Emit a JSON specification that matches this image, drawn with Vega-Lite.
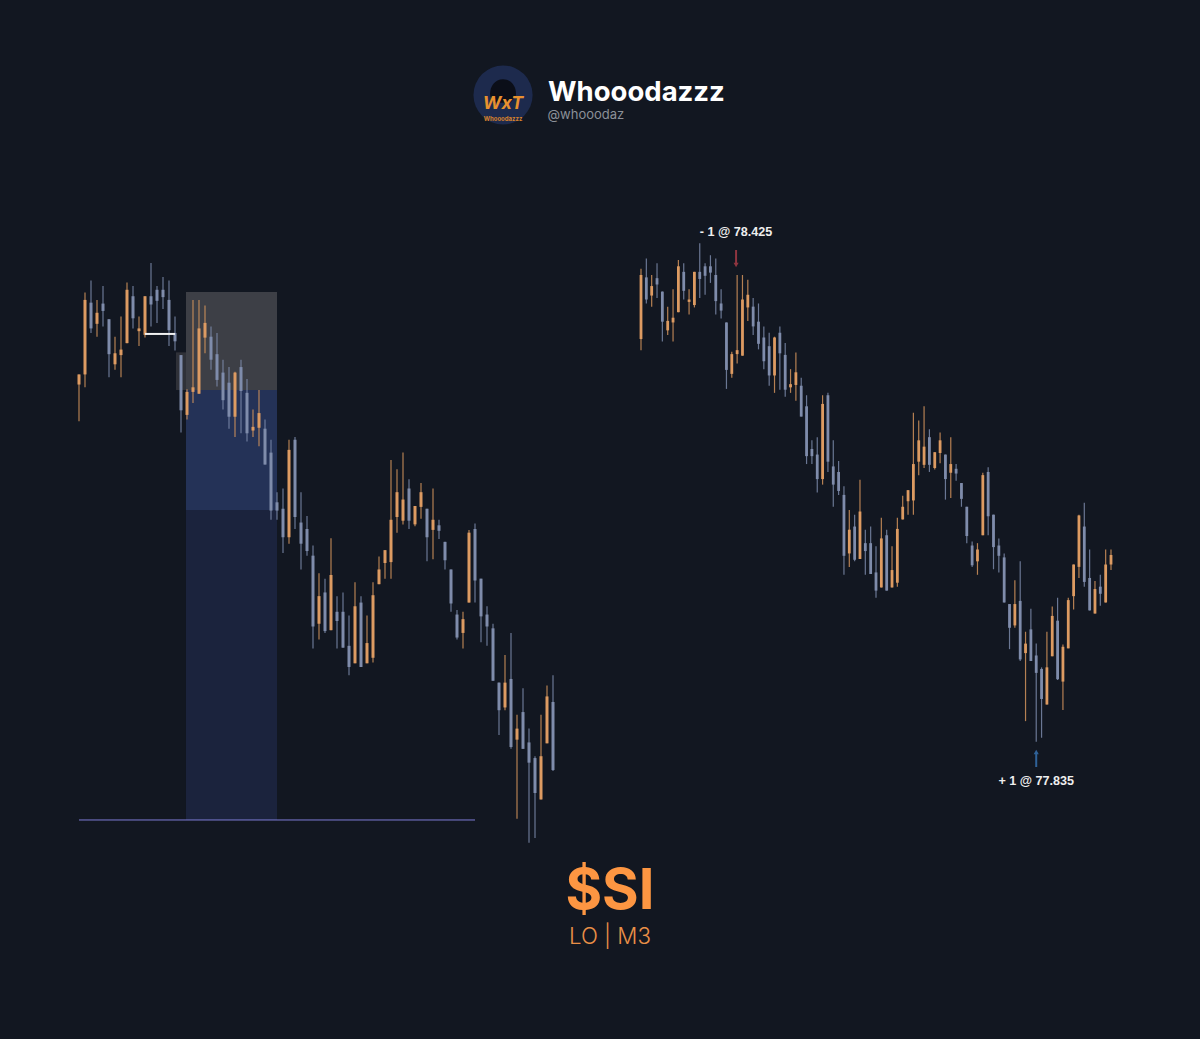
{"$schema":"https://vega.github.io/schema/vega-lite/v6.json","width":1200,"height":1039,"padding":0,"autosize":"none","background":"#121721","config":{"view":{"stroke":null}},
"datasets":{
"candles":[
{"bar":-1,"o":78.333,"h":78.344,"l":78.293,"c":78.344},
{"bar":0,"o":78.344,"h":78.433,"l":78.330,"c":78.425},
{"bar":1,"o":78.422,"h":78.446,"l":78.389,"c":78.394},
{"bar":2,"o":78.399,"h":78.425,"l":78.385,"c":78.411},
{"bar":3,"o":78.421,"h":78.440,"l":78.396,"c":78.413},
{"bar":4,"o":78.404,"h":78.404,"l":78.341,"c":78.366},
{"bar":5,"o":78.355,"h":78.385,"l":78.349,"c":78.367},
{"bar":6,"o":78.365,"h":78.407,"l":78.341,"c":78.371},
{"bar":7,"o":78.378,"h":78.444,"l":78.378,"c":78.436},
{"bar":8,"o":78.429,"h":78.440,"l":78.394,"c":78.405},
{"bar":9,"o":78.391,"h":78.407,"l":78.375,"c":78.394},
{"bar":10,"o":78.387,"h":78.429,"l":78.384,"c":78.429},
{"bar":11,"o":78.429,"h":78.465,"l":78.396,"c":78.420},
{"bar":12,"o":78.436,"h":78.440,"l":78.400,"c":78.424},
{"bar":13,"o":78.436,"h":78.450,"l":78.415,"c":78.428},
{"bar":14,"o":78.425,"h":78.446,"l":78.375,"c":78.392},
{"bar":15,"o":78.389,"h":78.407,"l":78.370,"c":78.380},
{"bar":16,"o":78.365,"h":78.365,"l":78.281,"c":78.305},
{"bar":17,"o":78.300,"h":78.328,"l":78.295,"c":78.325},
{"bar":18,"o":78.325,"h":78.425,"l":78.313,"c":78.330},
{"bar":19,"o":78.323,"h":78.425,"l":78.323,"c":78.394},
{"bar":20,"o":78.384,"h":78.419,"l":78.367,"c":78.400},
{"bar":21,"o":78.385,"h":78.396,"l":78.349,"c":78.360},
{"bar":22,"o":78.366,"h":78.389,"l":78.331,"c":78.338},
{"bar":23,"o":78.346,"h":78.360,"l":78.306,"c":78.316},
{"bar":24,"o":78.335,"h":78.352,"l":78.285,"c":78.298},
{"bar":25,"o":78.298,"h":78.347,"l":78.276,"c":78.346},
{"bar":26,"o":78.352,"h":78.360,"l":78.280,"c":78.326},
{"bar":27,"o":78.324,"h":78.339,"l":78.271,"c":78.280},
{"bar":28,"o":78.283,"h":78.306,"l":78.276,"c":78.287},
{"bar":29,"o":78.286,"h":78.327,"l":78.266,"c":78.302},
{"bar":30,"o":78.285,"h":78.295,"l":78.246,"c":78.246},
{"bar":31,"o":78.259,"h":78.273,"l":78.186,"c":78.196},
{"bar":32,"o":78.205,"h":78.216,"l":78.186,"c":78.196},
{"bar":33,"o":78.198,"h":78.220,"l":78.150,"c":78.167},
{"bar":34,"o":78.167,"h":78.273,"l":78.160,"c":78.262},
{"bar":35,"o":78.273,"h":78.276,"l":78.176,"c":78.189},
{"bar":36,"o":78.183,"h":78.216,"l":78.132,"c":78.160},
{"bar":37,"o":78.176,"h":78.190,"l":78.147,"c":78.152},
{"bar":38,"o":78.147,"h":78.158,"l":78.046,"c":78.070},
{"bar":39,"o":78.073,"h":78.128,"l":78.056,"c":78.103},
{"bar":40,"o":78.107,"h":78.122,"l":78.063,"c":78.065},
{"bar":41,"o":78.066,"h":78.166,"l":78.066,"c":78.126},
{"bar":42,"o":78.086,"h":78.103,"l":78.046,"c":78.076},
{"bar":43,"o":78.086,"h":78.107,"l":78.047,"c":78.047},
{"bar":44,"o":78.049,"h":78.082,"l":78.017,"c":78.026},
{"bar":45,"o":78.030,"h":78.118,"l":78.030,"c":78.092},
{"bar":46,"o":78.096,"h":78.103,"l":78.026,"c":78.026},
{"bar":47,"o":78.030,"h":78.082,"l":78.030,"c":78.052},
{"bar":48,"o":78.036,"h":78.118,"l":78.031,"c":78.104},
{"bar":49,"o":78.116,"h":78.146,"l":78.116,"c":78.132},
{"bar":50,"o":78.139,"h":78.153,"l":78.122,"c":78.153},
{"bar":51,"o":78.140,"h":78.251,"l":78.122,"c":78.186},
{"bar":52,"o":78.189,"h":78.241,"l":78.172,"c":78.216},
{"bar":53,"o":78.185,"h":78.259,"l":78.181,"c":78.208},
{"bar":54,"o":78.220,"h":78.230,"l":78.176,"c":78.185},
{"bar":55,"o":78.181,"h":78.201,"l":78.179,"c":78.201},
{"bar":56,"o":78.200,"h":78.226,"l":78.187,"c":78.216},
{"bar":57,"o":78.198,"h":78.198,"l":78.141,"c":78.167},
{"bar":58,"o":78.175,"h":78.220,"l":78.143,"c":78.186},
{"bar":59,"o":78.180,"h":78.186,"l":78.165,"c":78.174},
{"bar":60,"o":78.162,"h":78.162,"l":78.132,"c":78.142},
{"bar":61,"o":78.132,"h":78.132,"l":78.086,"c":78.095},
{"bar":62,"o":78.083,"h":78.088,"l":78.056,"c":78.058},
{"bar":63,"o":78.063,"h":78.086,"l":78.046,"c":78.078},
{"bar":64,"o":78.096,"h":78.175,"l":78.096,"c":78.172},
{"bar":65,"o":78.176,"h":78.182,"l":78.096,"c":78.120},
{"bar":66,"o":78.122,"h":78.122,"l":78.053,"c":78.081},
{"bar":67,"o":78.083,"h":78.092,"l":78.049,"c":78.070},
{"bar":68,"o":78.068,"h":78.073,"l":78.011,"c":78.011},
{"bar":69,"o":78.009,"h":78.009,"l":77.952,"c":77.979},
{"bar":70,"o":77.982,"h":78.039,"l":77.979,"c":78.009},
{"bar":71,"o":78.013,"h":78.063,"l":77.937,"c":77.939},
{"bar":72,"o":77.947,"h":77.974,"l":77.861,"c":77.959},
{"bar":73,"o":77.977,"h":78.003,"l":77.937,"c":77.937},
{"bar":74,"o":77.944,"h":77.959,"l":77.835,"c":77.922},
{"bar":75,"o":77.927,"h":77.929,"l":77.840,"c":77.889},
{"bar":76,"o":77.882,"h":77.974,"l":77.882,"c":77.929},
{"bar":77,"o":77.943,"h":78.006,"l":77.943,"c":77.994},
{"bar":78,"o":77.988,"h":78.017,"l":77.913,"c":77.914},
{"bar":79,"o":77.911,"h":77.958,"l":77.875,"c":77.955},
{"bar":80,"o":77.953,"h":78.017,"l":77.953,"c":78.014},
{"bar":81,"o":78.019,"h":78.059,"l":78.002,"c":78.059},
{"bar":82,"o":78.056,"h":78.122,"l":78.042,"c":78.121},
{"bar":83,"o":78.107,"h":78.137,"l":78.031,"c":78.037},
{"bar":84,"o":78.042,"h":78.078,"l":78.001,"c":78.001},
{"bar":85,"o":77.997,"h":78.038,"l":77.997,"c":78.028},
{"bar":86,"o":78.031,"h":78.046,"l":78.007,"c":78.022},
{"bar":87,"o":78.011,"h":78.078,"l":78.011,"c":78.059},
{"bar":88,"o":78.059,"h":78.078,"l":78.052,"c":78.071}
],
"zones":[
{"zone":"reward far","b0":16.83,"b1":32,"p0":78.1966,"p1":77.8597},
{"zone":"reward near","b0":16.83,"b1":32,"p0":78.327,"p1":78.1966},
{"zone":"risk","b0":16.83,"b1":32,"p0":78.4336,"p1":78.327},
{"zone":"entry","b0":15.17,"b1":16.83,"p0":78.368,"p1":78.327}
],
"levels":[
{"level":"target","b0":-1,"b1":65,"p":77.8597},
{"level":"sweep","b0":10,"b1":15,"p":78.388}
],
"trades":[
{"label":"- 1 @ 78.425","kind":"sell","bar":17.8,"tip":78.4376,"tail":78.4566,"lab":78.4794},
{"label":"+ 1 @ 77.835","kind":"buy","bar":74,"tip":77.822,"tail":77.803,"lab":77.7855}
],
"brand":[{"fx":0.4567,"fy":0.0972,"t":"Whooodazzz"}],
"handle":[{"fx":0.4563,"fy":0.1146,"t":"@whooodaz"}],
"ticker":[{"fx":0.5083,"fy":0.8749,"t":"$SI"}],
"session":[{"fx":0.5083,"fy":0.9086,"t":"LO | M3"}],
"logo":[{"fx":0.4192,"fy":0.0914}],
"logoMark":[{"fx":0.4192,"fy":0.1005,"t":"WxT"}],
"logoName":[{"fx":0.4192,"fy":0.1145,"t":"Whooodazzz"}]
},
"resolve":{"scale":{"x":"independent","y":"independent"}},
"layer":[
{"layer":[
{"data":{"name":"zones"},"mark":{"type":"rect"},"encoding":{
"x":{"field":"b0","type":"quantitative","axis":null,"scale":{"domain":[-1,78],"range":[79,553],"nice":false,"zero":false}},
"x2":{"field":"b1"},
"y":{"field":"p0","type":"quantitative","axis":null,"scale":{"domain":[77.835,78.425],"range":[842.7,299.9],"nice":false,"zero":false}},
"y2":{"field":"p1"},
"fill":{"field":"zone","type":"nominal","legend":null,"scale":{"domain":["reward far","reward near","risk","entry"],"range":["#1b233d","#243257","#3d3f46","#2f3138"]}}}},
{"data":{"name":"candles"},"transform":[{"filter":"datum.bar<=78"}],"mark":{"type":"rule","strokeWidth":1.2,"opacity":0.85},"encoding":{
"x":{"field":"bar","type":"quantitative","axis":null,"scale":{"domain":[-1,78],"range":[79,553],"nice":false,"zero":false}},
"y":{"field":"h","type":"quantitative","axis":null,"scale":{"domain":[77.835,78.425],"range":[842.7,299.9],"nice":false,"zero":false}},
"y2":{"field":"l"},
"color":{"condition":{"test":"datum.c>=datum.o","value":"#d2935c"},"value":"#7a88a8"}}},
{"data":{"name":"candles"},"transform":[{"filter":"datum.bar<=78"}],"mark":{"type":"rule","strokeWidth":3},"encoding":{
"x":{"field":"bar","type":"quantitative","axis":null,"scale":{"domain":[-1,78],"range":[79,553],"nice":false,"zero":false}},
"y":{"field":"o","type":"quantitative","axis":null,"scale":{"domain":[77.835,78.425],"range":[842.7,299.9],"nice":false,"zero":false}},
"y2":{"field":"c"},
"color":{"condition":{"test":"datum.c>=datum.o","value":"#dd9b62"},"value":"#7f8cab"}}},
{"data":{"name":"levels"},"transform":[{"filter":"datum.level=='target'"}],"mark":{"type":"rule","strokeWidth":1,"color":"#7d7bd6"},"encoding":{
"x":{"field":"b0","type":"quantitative","axis":null,"scale":{"domain":[-1,78],"range":[79,553],"nice":false,"zero":false}},
"x2":{"field":"b1"},
"y":{"field":"p","type":"quantitative","axis":null,"scale":{"domain":[77.835,78.425],"range":[842.7,299.9],"nice":false,"zero":false}}}},
{"data":{"name":"levels"},"transform":[{"filter":"datum.level=='sweep'"}],"mark":{"type":"rule","strokeWidth":2,"color":"#f2f2f2"},"encoding":{
"x":{"field":"b0","type":"quantitative","axis":null,"scale":{"domain":[-1,78],"range":[79,553],"nice":false,"zero":false}},
"x2":{"field":"b1"},
"y":{"field":"p","type":"quantitative","axis":null,"scale":{"domain":[77.835,78.425],"range":[842.7,299.9],"nice":false,"zero":false}}}}
]},
{"layer":[
{"data":{"name":"candles"},"transform":[{"filter":"datum.bar>=0"}],"mark":{"type":"rule","strokeWidth":1.2,"opacity":0.85},"encoding":{
"x":{"field":"bar","type":"quantitative","axis":null,"scale":{"domain":[0,88],"range":[641,1111],"nice":false,"zero":false}},
"y":{"field":"h","type":"quantitative","axis":null,"scale":{"domain":[77.835,78.425],"range":[741.7,275],"nice":false,"zero":false}},
"y2":{"field":"l"},
"color":{"condition":{"test":"datum.c>=datum.o","value":"#d2935c"},"value":"#7a88a8"}}},
{"data":{"name":"candles"},"transform":[{"filter":"datum.bar>=0"}],"mark":{"type":"rule","strokeWidth":2.8},"encoding":{
"x":{"field":"bar","type":"quantitative","axis":null,"scale":{"domain":[0,88],"range":[641,1111],"nice":false,"zero":false}},
"y":{"field":"o","type":"quantitative","axis":null,"scale":{"domain":[77.835,78.425],"range":[741.7,275],"nice":false,"zero":false}},
"y2":{"field":"c"},
"color":{"condition":{"test":"datum.c>=datum.o","value":"#dd9b62"},"value":"#7f8cab"}}},
{"data":{"name":"trades"},"mark":{"type":"rule","strokeWidth":2},"encoding":{
"x":{"field":"bar","type":"quantitative","axis":null,"scale":{"domain":[0,88],"range":[641,1111],"nice":false,"zero":false}},
"y":{"field":"tip","type":"quantitative","axis":null,"scale":{"domain":[77.835,78.425],"range":[741.7,275],"nice":false,"zero":false}},
"y2":{"field":"tail"},
"color":{"condition":{"test":"datum.kind=='sell'","value":"#8f3540"},"value":"#2f6299"}}},
{"data":{"name":"trades"},"mark":{"type":"point","filled":true,"size":26,"opacity":1},"encoding":{
"x":{"field":"bar","type":"quantitative","axis":null,"scale":{"domain":[0,88],"range":[641,1111],"nice":false,"zero":false}},
"y":{"field":"tip","type":"quantitative","axis":null,"scale":{"domain":[77.835,78.425],"range":[741.7,275],"nice":false,"zero":false}},
"shape":{"field":"kind","type":"nominal","legend":null,"scale":{"domain":["sell","buy"],"range":["triangle-down","triangle-up"]}},
"color":{"condition":{"test":"datum.kind=='sell'","value":"#8f3540"},"value":"#2f6299"}}},
{"data":{"name":"trades"},"mark":{"type":"text","font":"Liberation Sans","fontWeight":"bold","fontSize":12.6,"color":"#eeeeee","align":"center","baseline":"middle"},"encoding":{
"x":{"field":"bar","type":"quantitative","axis":null,"scale":{"domain":[0,88],"range":[641,1111],"nice":false,"zero":false}},
"y":{"field":"lab","type":"quantitative","axis":null,"scale":{"domain":[77.835,78.425],"range":[741.7,275],"nice":false,"zero":false}},
"text":{"field":"label"}}}
]},
{"encoding":{
"x":{"field":"fx","type":"quantitative","axis":null,"scale":{"domain":[0,1],"range":[0,1200],"nice":false,"zero":false}},
"y":{"field":"fy","type":"quantitative","axis":null,"scale":{"domain":[0,1],"range":[0,1039],"nice":false,"zero":false}}},
"layer":[
{"data":{"name":"logo"},"mark":{"type":"point","shape":"circle","filled":true,"size":3500,"color":"#1d2a4d","opacity":1}},
{"data":{"name":"logo"},"mark":{"type":"point","shape":"M0,-1 C0.6,-1 0.9,-0.4 0.8,0.1 L0.45,0.5 L-0.45,0.5 L-0.8,0.1 C-0.9,-0.4 -0.6,-1 0,-1 Z","filled":true,"size":1000,"color":"#0b0e18","opacity":1}},
{"data":{"name":"logoMark"},"mark":{"type":"text","font":"Inter","fontWeight":"bold","fontStyle":"italic","fontSize":18,"color":"#e8912f","align":"center","baseline":"middle"},"encoding":{"text":{"field":"t"}}},
{"data":{"name":"logoName"},"mark":{"type":"text","font":"Inter","fontWeight":"bold","fontSize":6,"color":"#d9822b","align":"center","baseline":"middle"},"encoding":{"text":{"field":"t"}}},
{"data":{"name":"brand"},"mark":{"type":"text","font":"Inter","fontWeight":"bold","fontSize":27.5,"color":"#ffffff","align":"left","baseline":"alphabetic"},"encoding":{"text":{"field":"t"}}},
{"data":{"name":"handle"},"mark":{"type":"text","font":"Inter","fontSize":13,"color":"#8b9098","align":"left","baseline":"alphabetic"},"encoding":{"text":{"field":"t"}}},
{"data":{"name":"ticker"},"mark":{"type":"text","font":"Inter","fontWeight":"bold","fontSize":56,"color":"#fd9642","align":"center","baseline":"alphabetic"},"encoding":{"text":{"field":"t"}}},
{"data":{"name":"session"},"mark":{"type":"text","font":"Inter","fontWeight":300,"fontSize":22.3,"color":"#e98f47","align":"center","baseline":"alphabetic"},"encoding":{"text":{"field":"t"}}}
]}
]}
